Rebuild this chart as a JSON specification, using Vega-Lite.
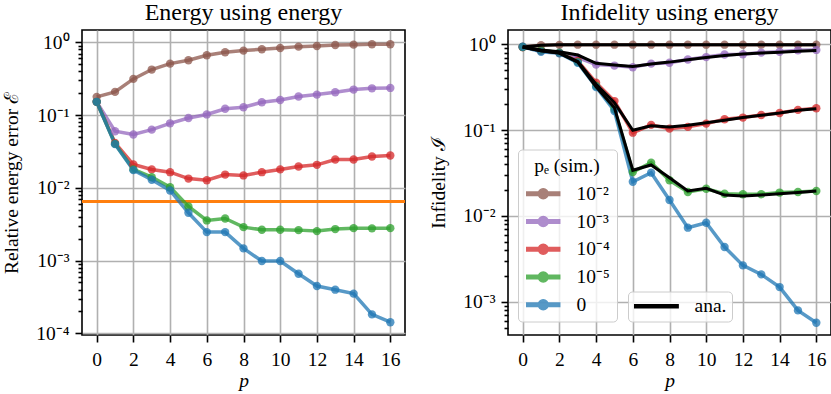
{
  "$schema": "https://vega.github.io/schema/vega-lite/v6.json",
  "padding": {"left": 0, "top": 0, "right": 0, "bottom": 0},
  "background": "white",
  "datasets": {
    "energy": [
      {"p":0,"pe":"10⁻²","E":0.178},{"p":1,"pe":"10⁻²","E":0.208},{"p":2,"pe":"10⁻²","E":0.314},{"p":3,"pe":"10⁻²","E":0.422},{"p":4,"pe":"10⁻²","E":0.509},{"p":5,"pe":"10⁻²","E":0.566},{"p":6,"pe":"10⁻²","E":0.663},{"p":7,"pe":"10⁻²","E":0.730},{"p":8,"pe":"10⁻²","E":0.769},{"p":9,"pe":"10⁻²","E":0.802},{"p":10,"pe":"10⁻²","E":0.836},{"p":11,"pe":"10⁻²","E":0.872},{"p":12,"pe":"10⁻²","E":0.891},{"p":13,"pe":"10⁻²","E":0.919},{"p":14,"pe":"10⁻²","E":0.929},{"p":15,"pe":"10⁻²","E":0.939},{"p":16,"pe":"10⁻²","E":0.939},
      {"p":0,"pe":"10⁻³","E":0.152},{"p":1,"pe":"10⁻³","E":0.060},{"p":2,"pe":"10⁻³","E":0.054},{"p":3,"pe":"10⁻³","E":0.063},{"p":4,"pe":"10⁻³","E":0.077},{"p":5,"pe":"10⁻³","E":0.091},{"p":6,"pe":"10⁻³","E":0.102},{"p":7,"pe":"10⁻³","E":0.122},{"p":8,"pe":"10⁻³","E":0.128},{"p":9,"pe":"10⁻³","E":0.150},{"p":10,"pe":"10⁻³","E":0.161},{"p":11,"pe":"10⁻³","E":0.180},{"p":12,"pe":"10⁻³","E":0.191},{"p":13,"pe":"10⁻³","E":0.206},{"p":14,"pe":"10⁻³","E":0.224},{"p":15,"pe":"10⁻³","E":0.233},{"p":16,"pe":"10⁻³","E":0.236},
      {"p":0,"pe":"10⁻⁴","E":0.152},{"p":1,"pe":"10⁻⁴","E":0.0415},{"p":2,"pe":"10⁻⁴","E":0.0209},{"p":3,"pe":"10⁻⁴","E":0.0179},{"p":4,"pe":"10⁻⁴","E":0.0164},{"p":5,"pe":"10⁻⁴","E":0.0134},{"p":6,"pe":"10⁻⁴","E":0.0127},{"p":7,"pe":"10⁻⁴","E":0.0152},{"p":8,"pe":"10⁻⁴","E":0.0148},{"p":9,"pe":"10⁻⁴","E":0.0164},{"p":10,"pe":"10⁻⁴","E":0.0179},{"p":11,"pe":"10⁻⁴","E":0.0196},{"p":12,"pe":"10⁻⁴","E":0.0207},{"p":13,"pe":"10⁻⁴","E":0.0245},{"p":14,"pe":"10⁻⁴","E":0.0245},{"p":15,"pe":"10⁻⁴","E":0.0269},{"p":16,"pe":"10⁻⁴","E":0.0278},
      {"p":0,"pe":"10⁻⁵","E":0.152},{"p":1,"pe":"10⁻⁵","E":0.0402},{"p":2,"pe":"10⁻⁵","E":0.0179},{"p":3,"pe":"10⁻⁵","E":0.0140},{"p":4,"pe":"10⁻⁵","E":0.0102},{"p":5,"pe":"10⁻⁵","E":0.00554},{"p":6,"pe":"10⁻⁵","E":0.00356},{"p":7,"pe":"10⁻⁵","E":0.00379},{"p":8,"pe":"10⁻⁵","E":0.00288},{"p":9,"pe":"10⁻⁵","E":0.00265},{"p":10,"pe":"10⁻⁵","E":0.00265},{"p":11,"pe":"10⁻⁵","E":0.00262},{"p":12,"pe":"10⁻⁵","E":0.00254},{"p":13,"pe":"10⁻⁵","E":0.00271},{"p":14,"pe":"10⁻⁵","E":0.00279},{"p":15,"pe":"10⁻⁵","E":0.00277},{"p":16,"pe":"10⁻⁵","E":0.00279},
      {"p":0,"pe":"0","E":0.152},{"p":1,"pe":"0","E":0.0398},{"p":2,"pe":"0","E":0.0175},{"p":3,"pe":"0","E":0.0129},{"p":4,"pe":"0","E":0.00919},{"p":5,"pe":"0","E":0.00454},{"p":6,"pe":"0","E":0.00246},{"p":7,"pe":"0","E":0.00246},{"p":8,"pe":"0","E":0.00147},{"p":9,"pe":"0","E":0.000985},{"p":10,"pe":"0","E":0.000985},{"p":11,"pe":"0","E":0.000659},{"p":12,"pe":"0","E":0.000447},{"p":13,"pe":"0","E":0.000398},{"p":14,"pe":"0","E":0.000351},{"p":15,"pe":"0","E":0.000182},{"p":16,"pe":"0","E":0.000142}
    ],
    "reference": [{"E": 0.00649}],
    "infid": [
      {"p":0,"pe":"10⁻²","I":0.93},{"p":1,"pe":"10⁻²","I":0.975},{"p":2,"pe":"10⁻²","I":0.985},{"p":3,"pe":"10⁻²","I":0.99},{"p":4,"pe":"10⁻²","I":0.99},{"p":5,"pe":"10⁻²","I":0.99},{"p":6,"pe":"10⁻²","I":0.99},{"p":7,"pe":"10⁻²","I":0.99},{"p":8,"pe":"10⁻²","I":0.99},{"p":9,"pe":"10⁻²","I":0.99},{"p":10,"pe":"10⁻²","I":0.99},{"p":11,"pe":"10⁻²","I":0.99},{"p":12,"pe":"10⁻²","I":0.99},{"p":13,"pe":"10⁻²","I":0.99},{"p":14,"pe":"10⁻²","I":0.99},{"p":15,"pe":"10⁻²","I":0.99},{"p":16,"pe":"10⁻²","I":0.99},
      {"p":0,"pe":"10⁻³","I":0.93},{"p":1,"pe":"10⁻³","I":0.85},{"p":2,"pe":"10⁻³","I":0.80},{"p":3,"pe":"10⁻³","I":0.70},{"p":4,"pe":"10⁻³","I":0.58},{"p":5,"pe":"10⁻³","I":0.565},{"p":6,"pe":"10⁻³","I":0.54},{"p":7,"pe":"10⁻³","I":0.595},{"p":8,"pe":"10⁻³","I":0.61},{"p":9,"pe":"10⁻³","I":0.665},{"p":10,"pe":"10⁻³","I":0.71},{"p":11,"pe":"10⁻³","I":0.76},{"p":12,"pe":"10⁻³","I":0.765},{"p":13,"pe":"10⁻³","I":0.80},{"p":14,"pe":"10⁻³","I":0.82},{"p":15,"pe":"10⁻³","I":0.85},{"p":16,"pe":"10⁻³","I":0.86},
      {"p":0,"pe":"10⁻⁴","I":0.93},{"p":1,"pe":"10⁻⁴","I":0.84},{"p":2,"pe":"10⁻⁴","I":0.79},{"p":3,"pe":"10⁻⁴","I":0.64},{"p":4,"pe":"10⁻⁴","I":0.357},{"p":5,"pe":"10⁻⁴","I":0.218},{"p":6,"pe":"10⁻⁴","I":0.0933},{"p":7,"pe":"10⁻⁴","I":0.115},{"p":8,"pe":"10⁻⁴","I":0.104},{"p":9,"pe":"10⁻⁴","I":0.109},{"p":10,"pe":"10⁻⁴","I":0.119},{"p":11,"pe":"10⁻⁴","I":0.134},{"p":12,"pe":"10⁻⁴","I":0.140},{"p":13,"pe":"10⁻⁴","I":0.150},{"p":14,"pe":"10⁻⁴","I":0.158},{"p":15,"pe":"10⁻⁴","I":0.172},{"p":16,"pe":"10⁻⁴","I":0.180},
      {"p":0,"pe":"10⁻⁵","I":0.93},{"p":1,"pe":"10⁻⁵","I":0.85},{"p":2,"pe":"10⁻⁵","I":0.80},{"p":3,"pe":"10⁻⁵","I":0.62},{"p":4,"pe":"10⁻⁵","I":0.327},{"p":5,"pe":"10⁻⁵","I":0.175},{"p":6,"pe":"10⁻⁵","I":0.0325},{"p":7,"pe":"10⁻⁵","I":0.0417},{"p":8,"pe":"10⁻⁵","I":0.0260},{"p":9,"pe":"10⁻⁵","I":0.0190},{"p":10,"pe":"10⁻⁵","I":0.0207},{"p":11,"pe":"10⁻⁵","I":0.0181},{"p":12,"pe":"10⁻⁵","I":0.0179},{"p":13,"pe":"10⁻⁵","I":0.0179},{"p":14,"pe":"10⁻⁵","I":0.0187},{"p":15,"pe":"10⁻⁵","I":0.0190},{"p":16,"pe":"10⁻⁵","I":0.0195},
      {"p":0,"pe":"0","I":0.937},{"p":1,"pe":"0","I":0.82},{"p":2,"pe":"0","I":0.785},{"p":3,"pe":"0","I":0.61},{"p":4,"pe":"0","I":0.318},{"p":5,"pe":"0","I":0.167},{"p":6,"pe":"0","I":0.0250},{"p":7,"pe":"0","I":0.0319},{"p":8,"pe":"0","I":0.0153},{"p":9,"pe":"0","I":0.00729},{"p":10,"pe":"0","I":0.00833},{"p":11,"pe":"0","I":0.00434},{"p":12,"pe":"0","I":0.00265},{"p":13,"pe":"0","I":0.00208},{"p":14,"pe":"0","I":0.00148},{"p":15,"pe":"0","I":0.000792},{"p":16,"pe":"0","I":0.000569}
    ],
    "analytic": [
      {"p":0,"pe":"10⁻²","kind":"ana.","I":0.93},{"p":1,"pe":"10⁻²","kind":"ana.","I":0.975},{"p":2,"pe":"10⁻²","kind":"ana.","I":0.985},{"p":3,"pe":"10⁻²","kind":"ana.","I":0.99},{"p":4,"pe":"10⁻²","kind":"ana.","I":0.99},{"p":5,"pe":"10⁻²","kind":"ana.","I":0.99},{"p":6,"pe":"10⁻²","kind":"ana.","I":0.99},{"p":7,"pe":"10⁻²","kind":"ana.","I":0.99},{"p":8,"pe":"10⁻²","kind":"ana.","I":0.99},{"p":9,"pe":"10⁻²","kind":"ana.","I":0.99},{"p":10,"pe":"10⁻²","kind":"ana.","I":0.99},{"p":11,"pe":"10⁻²","kind":"ana.","I":0.99},{"p":12,"pe":"10⁻²","kind":"ana.","I":0.99},{"p":13,"pe":"10⁻²","kind":"ana.","I":0.99},{"p":14,"pe":"10⁻²","kind":"ana.","I":0.99},{"p":15,"pe":"10⁻²","kind":"ana.","I":0.99},{"p":16,"pe":"10⁻²","kind":"ana.","I":0.99},
      {"p":0,"pe":"10⁻³","kind":"ana.","I":0.93},{"p":1,"pe":"10⁻³","kind":"ana.","I":0.86},{"p":2,"pe":"10⁻³","kind":"ana.","I":0.82},{"p":3,"pe":"10⁻³","kind":"ana.","I":0.75},{"p":4,"pe":"10⁻³","kind":"ana.","I":0.60},{"p":5,"pe":"10⁻³","kind":"ana.","I":0.575},{"p":6,"pe":"10⁻³","kind":"ana.","I":0.55},{"p":7,"pe":"10⁻³","kind":"ana.","I":0.59},{"p":8,"pe":"10⁻³","kind":"ana.","I":0.62},{"p":9,"pe":"10⁻³","kind":"ana.","I":0.66},{"p":10,"pe":"10⁻³","kind":"ana.","I":0.70},{"p":11,"pe":"10⁻³","kind":"ana.","I":0.74},{"p":12,"pe":"10⁻³","kind":"ana.","I":0.77},{"p":13,"pe":"10⁻³","kind":"ana.","I":0.79},{"p":14,"pe":"10⁻³","kind":"ana.","I":0.81},{"p":15,"pe":"10⁻³","kind":"ana.","I":0.83},{"p":16,"pe":"10⁻³","kind":"ana.","I":0.845},
      {"p":0,"pe":"10⁻⁴","kind":"ana.","I":0.93},{"p":1,"pe":"10⁻⁴","kind":"ana.","I":0.84},{"p":2,"pe":"10⁻⁴","kind":"ana.","I":0.79},{"p":3,"pe":"10⁻⁴","kind":"ana.","I":0.63},{"p":4,"pe":"10⁻⁴","kind":"ana.","I":0.342},{"p":5,"pe":"10⁻⁴","kind":"ana.","I":0.209},{"p":6,"pe":"10⁻⁴","kind":"ana.","I":0.0994},{"p":7,"pe":"10⁻⁴","kind":"ana.","I":0.112},{"p":8,"pe":"10⁻⁴","kind":"ana.","I":0.109},{"p":9,"pe":"10⁻⁴","kind":"ana.","I":0.114},{"p":10,"pe":"10⁻⁴","kind":"ana.","I":0.122},{"p":11,"pe":"10⁻⁴","kind":"ana.","I":0.130},{"p":12,"pe":"10⁻⁴","kind":"ana.","I":0.140},{"p":13,"pe":"10⁻⁴","kind":"ana.","I":0.149},{"p":14,"pe":"10⁻⁴","kind":"ana.","I":0.158},{"p":15,"pe":"10⁻⁴","kind":"ana.","I":0.170},{"p":16,"pe":"10⁻⁴","kind":"ana.","I":0.177},
      {"p":0,"pe":"10⁻⁵","kind":"ana.","I":0.93},{"p":1,"pe":"10⁻⁵","kind":"ana.","I":0.84},{"p":2,"pe":"10⁻⁵","kind":"ana.","I":0.79},{"p":3,"pe":"10⁻⁵","kind":"ana.","I":0.62},{"p":4,"pe":"10⁻⁵","kind":"ana.","I":0.32},{"p":5,"pe":"10⁻⁵","kind":"ana.","I":0.182},{"p":6,"pe":"10⁻⁵","kind":"ana.","I":0.034},{"p":7,"pe":"10⁻⁵","kind":"ana.","I":0.0392},{"p":8,"pe":"10⁻⁵","kind":"ana.","I":0.0279},{"p":9,"pe":"10⁻⁵","kind":"ana.","I":0.0195},{"p":10,"pe":"10⁻⁵","kind":"ana.","I":0.0210},{"p":11,"pe":"10⁻⁵","kind":"ana.","I":0.0175},{"p":12,"pe":"10⁻⁵","kind":"ana.","I":0.0171},{"p":13,"pe":"10⁻⁵","kind":"ana.","I":0.0175},{"p":14,"pe":"10⁻⁵","kind":"ana.","I":0.0181},{"p":15,"pe":"10⁻⁵","kind":"ana.","I":0.0187},{"p":16,"pe":"10⁻⁵","kind":"ana.","I":0.0195}
    ]
  },
  "hconcat": [
    {
      "width": 323,
      "height": 305,
      "title": {"text": "Energy using energy"},
      "layer": [
        {
          "data": {"name": "reference"},
          "mark": {"type": "rule", "color": "#ff7f0e", "strokeWidth": 3},
          "encoding": {"y": {"field": "E", "type": "quantitative", "scale": {"type": "log", "domain": [0.0000948, 1.476], "nice": false}}}
        },
        {
          "data": {"name": "energy"},
          "mark": {"type": "line", "strokeWidth": 3.5, "opacity": 0.75, "point": {"filled": true, "size": 70, "opacity": 0.75}},
          "encoding": {
            "x": {"field": "p", "type": "quantitative", "title": "p",
                  "scale": {"domain": [-0.8, 16.8], "nice": false, "zero": false},
                  "axis": {"values": [0,2,4,6,8,10,12,14,16], "titleFontStyle": "italic", "labelFlush": false, "labelPadding": 8, "titlePadding": 3}},
            "y": {"field": "E", "type": "quantitative", "title": "Relative energy error ℰ",
                  "scale": {"type": "log", "domain": [0.0000948, 1.476], "nice": false},
                  "axis": {
                    "values": [0.0001,0.0002,0.0003,0.0004,0.0005,0.0006,0.0007,0.0008,0.0009,0.001,0.002,0.003,0.004,0.005,0.006,0.007,0.008,0.009,0.01,0.02,0.03,0.04,0.05,0.06,0.07,0.08,0.09,0.1,0.2,0.3,0.4,0.5,0.6,0.7,0.8,0.9,1],
                    "labelExpr": "datum.value == 1 ? '10⁰' : datum.value == 0.1 ? '10⁻¹' : datum.value == 0.01 ? '10⁻²' : datum.value == 0.001 ? '10⁻³' : datum.value == 0.0001 ? '10⁻⁴' : ''",
                    "labelPadding": 6, "titlePadding": 14,
                    "tickSize": {"condition": {"test": "indexof([1,0.1,0.01,0.001,0.0001], datum.value) >= 0", "value": 7}, "value": 4},
                    "gridOpacity": {"condition": {"test": "indexof([1,0.1,0.01,0.001,0.0001], datum.value) >= 0", "value": 1}, "value": 0}
                  }},
            "color": {"field": "pe", "type": "nominal",
                      "scale": {"domain": ["10⁻²","10⁻³","10⁻⁴","10⁻⁵","0"], "range": ["#8c564b","#9467bd","#d62728","#2ca02c","#1f77b4"]},
                      "legend": {
                        "title": "pₑ (sim.)",
                        "orient": "none", "legendX": 436, "legendY": 119.5,
                        "titleAnchor": "middle",
                        "symbolType": "M-1,-0.22L3.12,-0.22L3.12,0.22L-1,0.22Z M1.68,0A0.62,0.62 0 1,1 0.44,0A0.62,0.62 0 1,1 1.68,0Z",
                        "symbolSize": 256,
                        "labelOffset": 32,
                        "padding": 7,
                        "titlePadding": 8,
                        "rowPadding": 6.75,
                        "strokeColor": "#cccccc",
                        "fillColor": "rgba(255,255,255,0.8)",
                        "cornerRadius": 4,
                        "encode": {"symbols": {"update": {"fill": {"scale": "color", "field": "value"}, "stroke": {"value": "transparent"}, "opacity": {"value": 0.75}}}}
                      }}
          }
        }
      ]
    },
    {
      "width": 323,
      "height": 305,
      "title": {"text": "Infidelity using energy"},
      "layer": [
        {
          "data": {"name": "infid"},
          "mark": {"type": "line", "strokeWidth": 3.5, "opacity": 0.75, "point": {"filled": true, "size": 70, "opacity": 0.75}},
          "encoding": {
            "x": {"field": "p", "type": "quantitative", "title": "p",
                  "scale": {"domain": [-0.8, 16.8], "nice": false, "zero": false},
                  "axis": {"values": [0,2,4,6,8,10,12,14,16], "titleFontStyle": "italic", "labelFlush": false, "labelPadding": 8, "titlePadding": 3}},
            "y": {"field": "I", "type": "quantitative", "title": "Infidelity ℐ",
                  "scale": {"type": "log", "domain": [0.000409, 1.468], "nice": false},
                  "axis": {
                    "values": [0.0005,0.0006,0.0007,0.0008,0.0009,0.001,0.002,0.003,0.004,0.005,0.006,0.007,0.008,0.009,0.01,0.02,0.03,0.04,0.05,0.06,0.07,0.08,0.09,0.1,0.2,0.3,0.4,0.5,0.6,0.7,0.8,0.9,1],
                    "labelExpr": "datum.value == 1 ? '10⁰' : datum.value == 0.1 ? '10⁻¹' : datum.value == 0.01 ? '10⁻²' : datum.value == 0.001 ? '10⁻³' : ''",
                    "labelPadding": 6, "titlePadding": 14,
                    "tickSize": {"condition": {"test": "indexof([1,0.1,0.01,0.001], datum.value) >= 0", "value": 7}, "value": 4},
                    "gridOpacity": {"condition": {"test": "indexof([1,0.1,0.01,0.001], datum.value) >= 0", "value": 1}, "value": 0}
                  }},
            "color": {"field": "pe", "type": "nominal",
                      "scale": {"domain": ["10⁻²","10⁻³","10⁻⁴","10⁻⁵","0"], "range": ["#8c564b","#9467bd","#d62728","#2ca02c","#1f77b4"]}}
          }
        },
        {
          "data": {"name": "analytic"},
          "mark": {"type": "line", "strokeWidth": 3},
          "encoding": {
            "x": {"field": "p", "type": "quantitative"},
            "y": {"field": "I", "type": "quantitative"},
            "detail": {"field": "pe", "type": "nominal"},
            "stroke": {"field": "kind", "type": "nominal",
                       "scale": {"domain": ["ana."], "range": ["black"]},
                       "legend": {
                         "title": null,
                         "orient": "none", "legendX": 546, "legendY": 261.5,
                         "symbolType": "M-1,-0.2L4.42,-0.2L4.42,0.2L-1,0.2Z",
                         "symbolSize": 256,
                         "labelOffset": 42,
                         "padding": 5,
                         "strokeColor": "#cccccc",
                         "fillColor": "rgba(255,255,255,0.8)",
                         "cornerRadius": 4,
                         "encode": {"symbols": {"update": {"fill": {"value": "black"}, "stroke": {"value": "transparent"}, "opacity": {"value": 1}}}}
                       }}
          }
        }
      ]
    }
  ],
  "spacing": 103,
  "bounds": "flush",
  "config": {
    "font": "Liberation Serif",
    "view": {"stroke": "black", "strokeWidth": 1.6},
    "style": {
      "guide-label": {"font": "Liberation Serif"},
      "guide-title": {"font": "Liberation Serif"},
      "group-title": {"font": "Liberation Serif"}
    },
    "axis": {
      "labelFont": "Liberation Serif", "labelFontSize": 19.5, "labelColor": "black",
      "titleFont": "Liberation Serif", "titleFontSize": 19.5, "titleFontWeight": "normal", "titleColor": "black",
      "tickColor": "black", "tickSize": 7, "tickWidth": 1.6, "domain": false,
      "grid": true, "gridColor": "#b0b0b0", "gridWidth": 1.6, "labelOverlap": false
    },
    "legend": {
      "labelFont": "Liberation Serif", "labelFontSize": 19.5, "labelColor": "black",
      "titleFont": "Liberation Serif", "titleFontSize": 19.5, "titleFontWeight": "normal", "titleColor": "black"
    },
    "title": {"font": "Liberation Serif", "fontSize": 24, "fontWeight": "normal", "color": "black", "frame": "group", "baseline": "alphabetic", "offset": 5, "anchor": "middle"}
  }
}
